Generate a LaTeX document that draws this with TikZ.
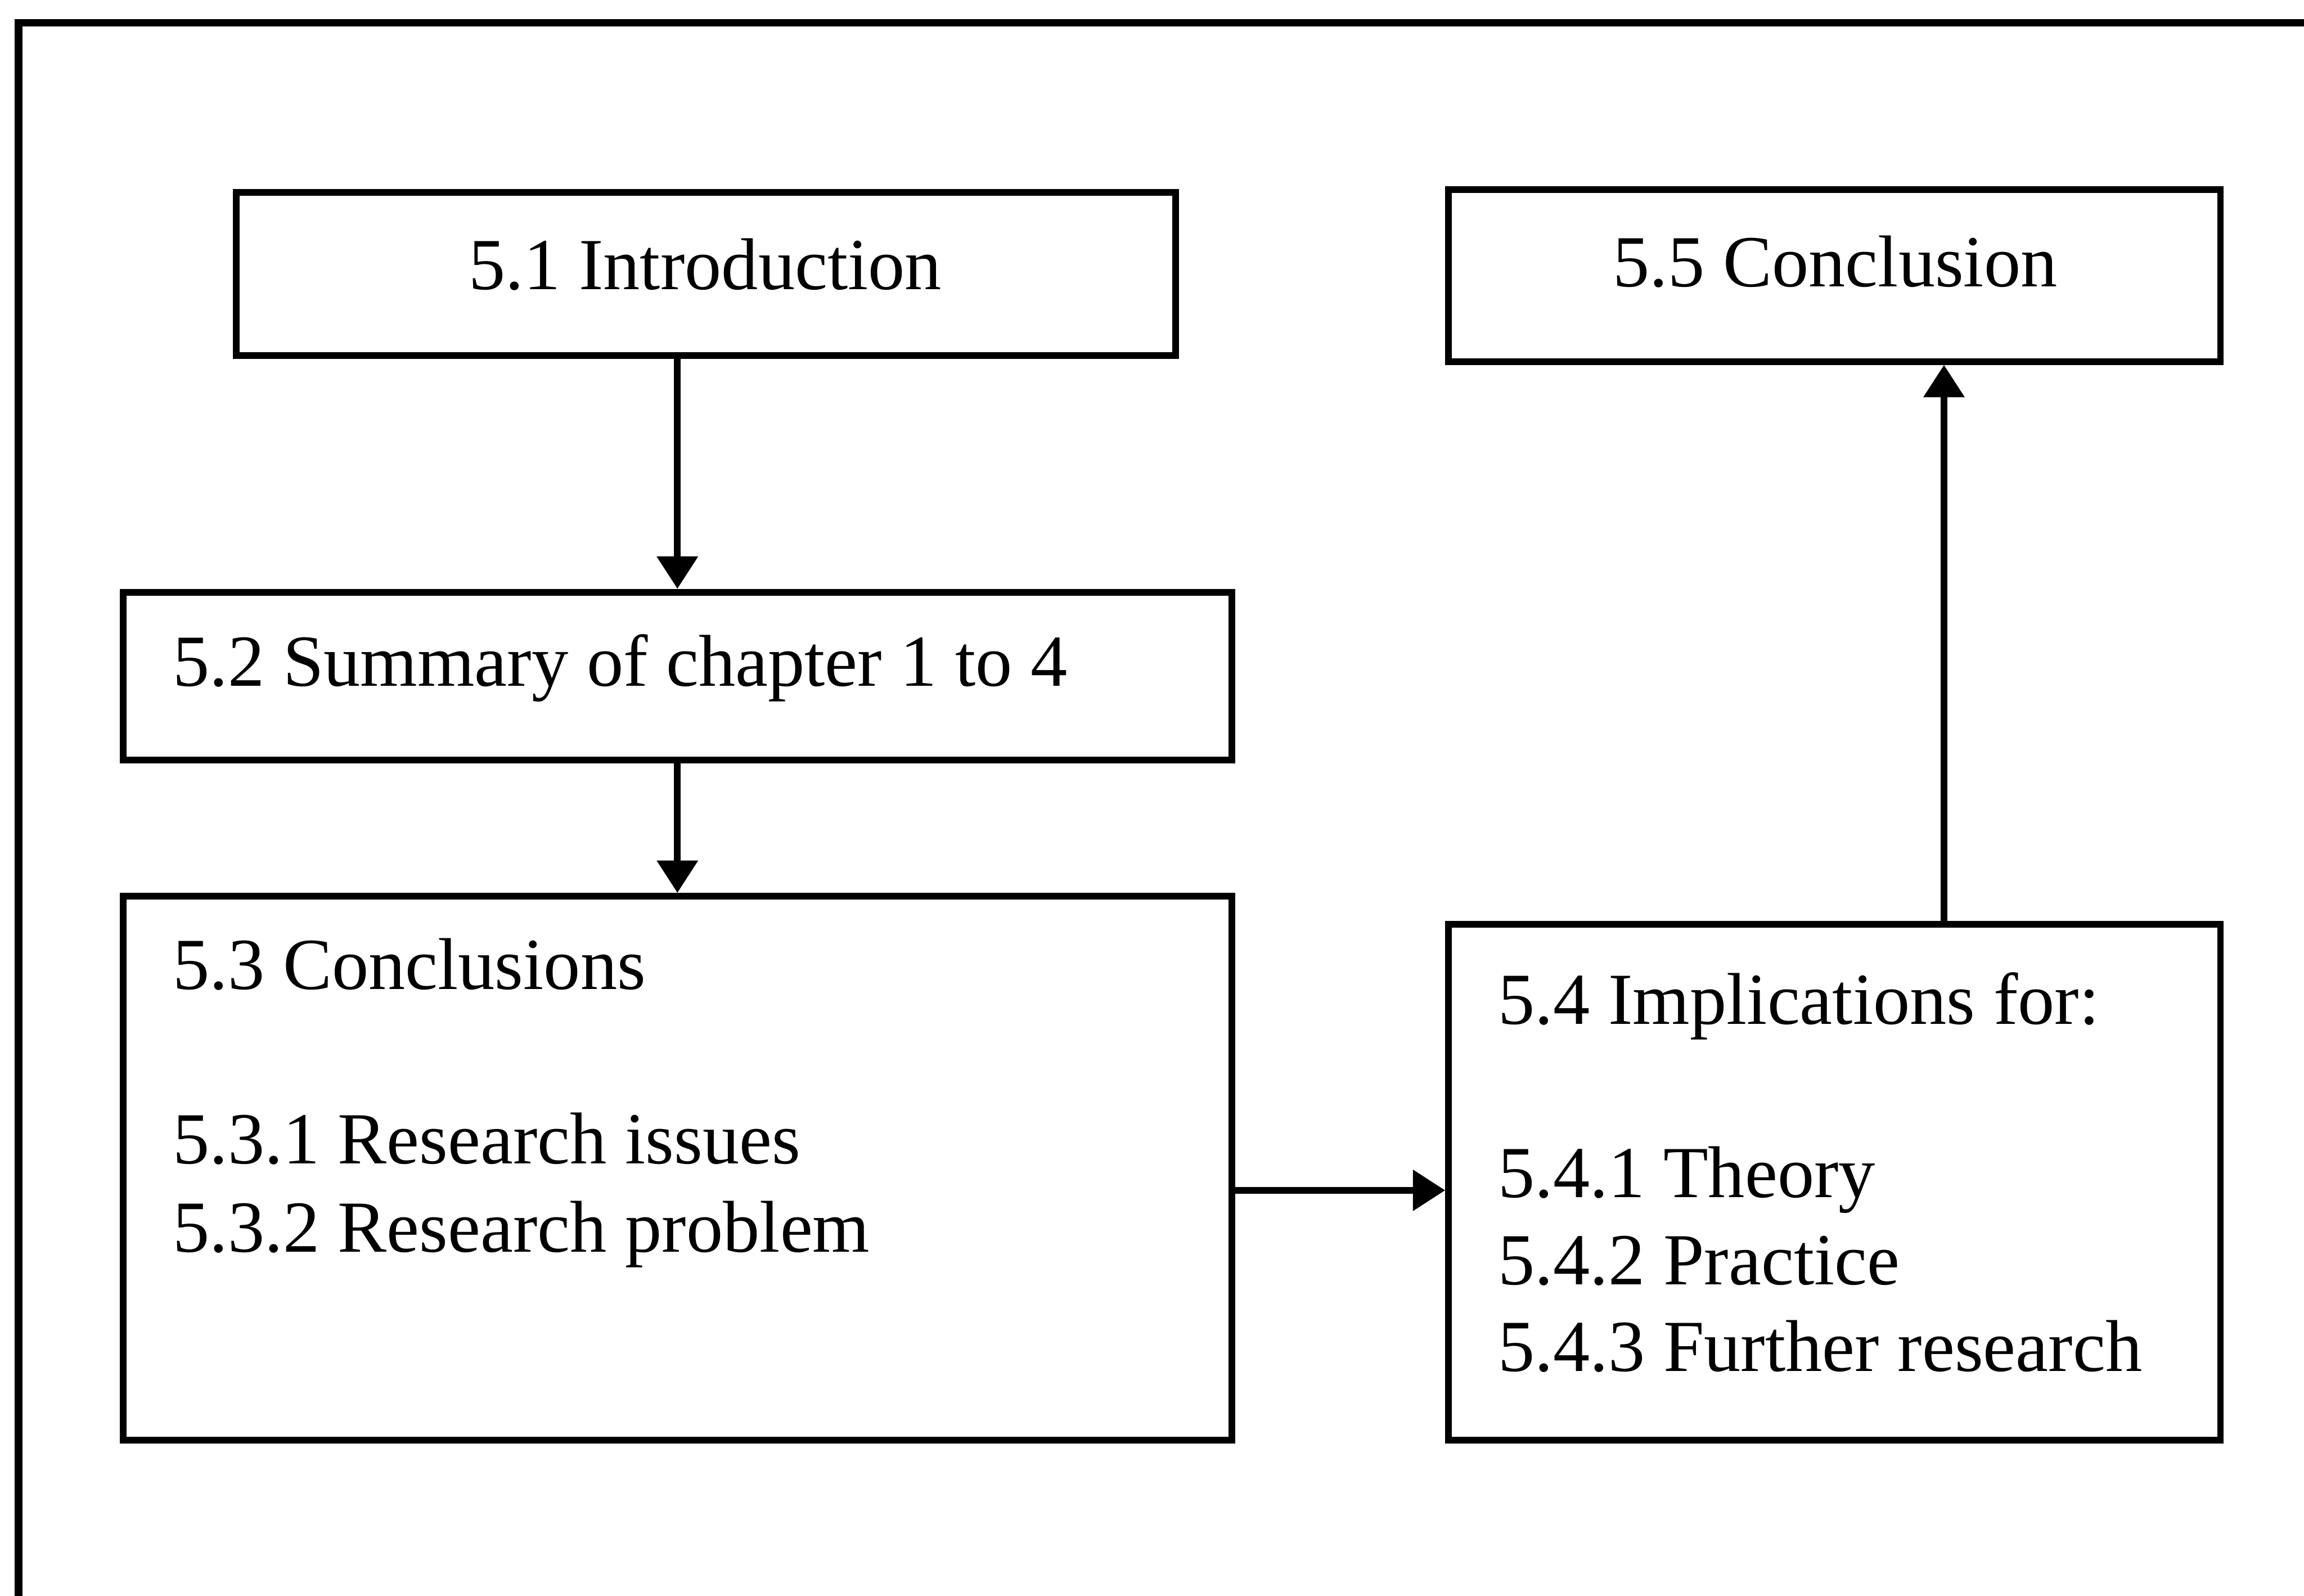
\documentclass[tikz,border=0pt]{standalone}
\usepackage{fontspec}
\setmainfont{Liberation Serif}
\usetikzlibrary{arrows.meta}
\begin{document}
\begin{tikzpicture}[x=0.01cm,y=-0.01cm,
  box/.style={draw, line width=1.3pt, inner sep=0pt},
  txt/.style={inner sep=0pt, font=\fontsize{14.2pt}{17pt}\selectfont},
  arr/.style={line width=1.3pt, -{Triangle[width=0.27cm,length=0.22cm]}},
  frame/.style={line width=1.5pt}]
\useasboundingbox (0,0) rectangle (1568,1086);
% open outer frame (top and left sides)
\draw[frame] (12.5,1086) -- (12.5,15.5) -- (1568,15.5);

% boxes
\node[box, minimum width=6.39cm, minimum height=1.11cm] (b51) at (480.5,186.5) {};
\node[box, minimum width=5.25cm, minimum height=1.17cm] (b55) at (1248.5,187.5) {};
\node[box, minimum width=7.54cm, minimum height=1.14cm] (b52) at (461,460) {};
\node[box, minimum width=7.54cm, minimum height=3.70cm] (b53) at (461,795) {};
\node[box, minimum width=5.25cm, minimum height=3.51cm] (b54) at (1248.5,804.5) {};

% texts
\node[txt, anchor=base] (t51) at (480,197) {5.1 Introduction};
\node[txt, anchor=base] (t55) at (1249,195) {5.5 Conclusion};
\node[txt, anchor=base west] (t52) at (117,467) {5.2 Summary of chapter 1 to 4};
\node[txt, anchor=base west] (t53) at (117,673) {5.3 Conclusions};
\node[txt, anchor=base west] (t531) at (117,792) {5.3.1 Research issues};
\node[txt, anchor=base west] (t532) at (117,852) {5.3.2 Research problem};
\node[txt, anchor=base west] (t54) at (1019,697) {5.4 Implications for:};
\node[txt, anchor=base west] (t541) at (1019,815) {5.4.1 Theory};
\node[txt, anchor=base west] (t542) at (1019,874) {5.4.2 Practice};
\node[txt, anchor=base west] (t543) at (1019,933) {5.4.3 Further research};

% connectors
\coordinate (h) at (0,810);
\coordinate (v) at (1323,0);
\draw[arr] (b52.north |- b51.south) -- (b52.north);
\draw[arr] (b52.south) -- (b53.north);
\draw[arr] (b53.east |- h) -- (b54.west |- h);
\draw[arr] (b54.north -| v) -- (b55.south -| v);
\end{tikzpicture}
\end{document}
